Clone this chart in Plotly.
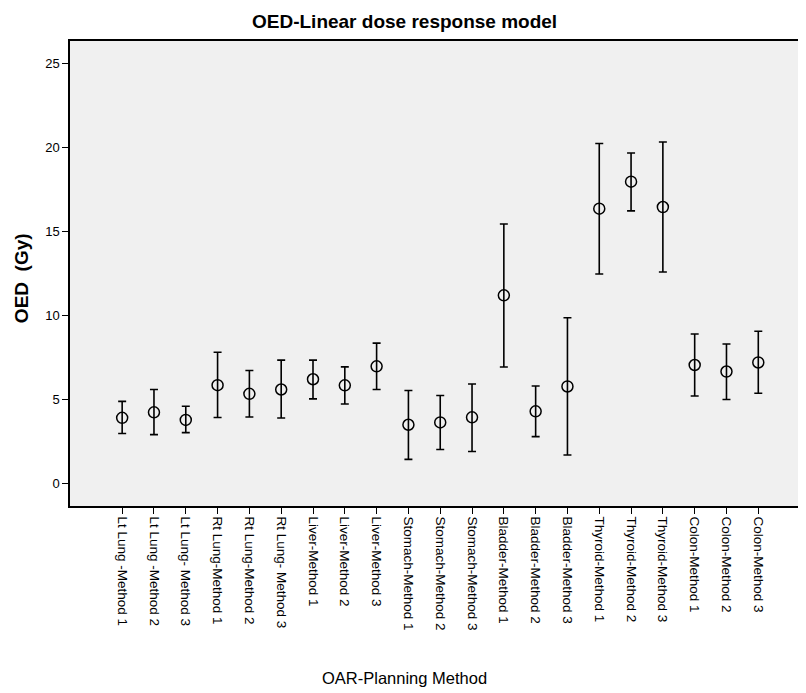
import plotly.graph_objects as go

categories = [
    "Lt Lung -Method 1", "Lt Lung -Method 2", "Lt Lung- Method 3",
    "Rt Lung-Method 1", "Rt Lung-Method 2", "Rt Lung- Method 3",
    "Liver-Method 1", "Liver-Method 2", "Liver-Method 3",
    "Stomach-Method 1", "Stomach-Method 2", "Stomach-Method 3",
    "Bladder-Method 1", "Bladder-Method 2", "Bladder-Method 3",
    "Thyroid-Method 1", "Thyroid-Method 2", "Thyroid-Method 3",
    "Colon-Method 1", "Colon-Method 2", "Colon-Method 3",
]
mean_oed = [3.90, 4.23, 3.78, 5.85, 5.33, 5.59, 6.20, 5.84, 6.97,
            3.49, 3.63, 3.93, 11.20, 4.29, 5.77, 16.36, 17.97, 16.46,
            7.05, 6.66, 7.20]
upper_ci = [4.88, 5.59, 4.59, 7.81, 6.72, 7.34, 7.34, 6.94, 8.35,
            5.53, 5.23, 5.92, 15.45, 5.80, 9.86, 20.24, 19.68, 20.33,
            8.90, 8.30, 9.06]
lower_ci = [2.97, 2.90, 3.02, 3.92, 3.95, 3.89, 5.03, 4.73, 5.59,
            1.43, 2.02, 1.90, 6.93, 2.78, 1.69, 12.47, 16.23, 12.59,
            5.20, 4.99, 5.37]

plus = [u - m for u, m in zip(upper_ci, mean_oed)]
minus = [m - l for m, l in zip(mean_oed, lower_ci)]

fig = go.Figure(go.Scatter(
    x=categories, y=mean_oed, mode="markers",
    marker=dict(symbol="circle-open", size=11, color="black", line=dict(width=1.5, color="black")),
    error_y=dict(type="data", symmetric=False, array=plus, arrayminus=minus,
                 color="black", thickness=1.6, width=4),
    showlegend=False,
))

fig.update_layout(
    width=798, height=685,
    margin=dict(l=62, r=0, t=33, b=187),
    paper_bgcolor="white", plot_bgcolor="#f0f0f0",
    font=dict(family="Liberation Sans, Arial, sans-serif", color="black"),
    annotations=[
        dict(text="<b>OED-Linear dose response model</b>", xref="paper", yref="paper",
             x=0.455, y=1.042, xanchor="center", yanchor="middle", showarrow=False,
             font=dict(size=19, color="black")),
        dict(text="<b>OED  (Gy)</b>", textangle=-90, xref="paper", yref="paper",
             x=-0.0666, y=0.49, xanchor="center", yanchor="middle", showarrow=False,
             font=dict(size=19, color="black")),
        dict(text="OAR-Planning Method", xref="paper", yref="paper",
             x=0.455, y=-0.37, xanchor="center", yanchor="middle", showarrow=False,
             font=dict(size=16.5, color="black")),
    ],
)
fig.update_xaxes(
    type="category", range=[-1.64, 21.5], tickangle=90, automargin=False,
    showline=True, linecolor="black", linewidth=1.5, mirror=True,
    ticks="outside", ticklen=6, tickcolor="black", tickwidth=1.2,
    showgrid=False, zeroline=False, tickfont=dict(size=13.5),
)
fig.update_yaxes(
    range=[-1.35, 26.35], tickvals=[0, 5, 10, 15, 20, 25], automargin=False,
    showline=True, linecolor="black", linewidth=1.5,
    ticks="outside", ticklen=6, tickcolor="black", tickwidth=1.2,
    showgrid=False, zeroline=False, tickfont=dict(size=13),
)

fig.write_html("out.html")
